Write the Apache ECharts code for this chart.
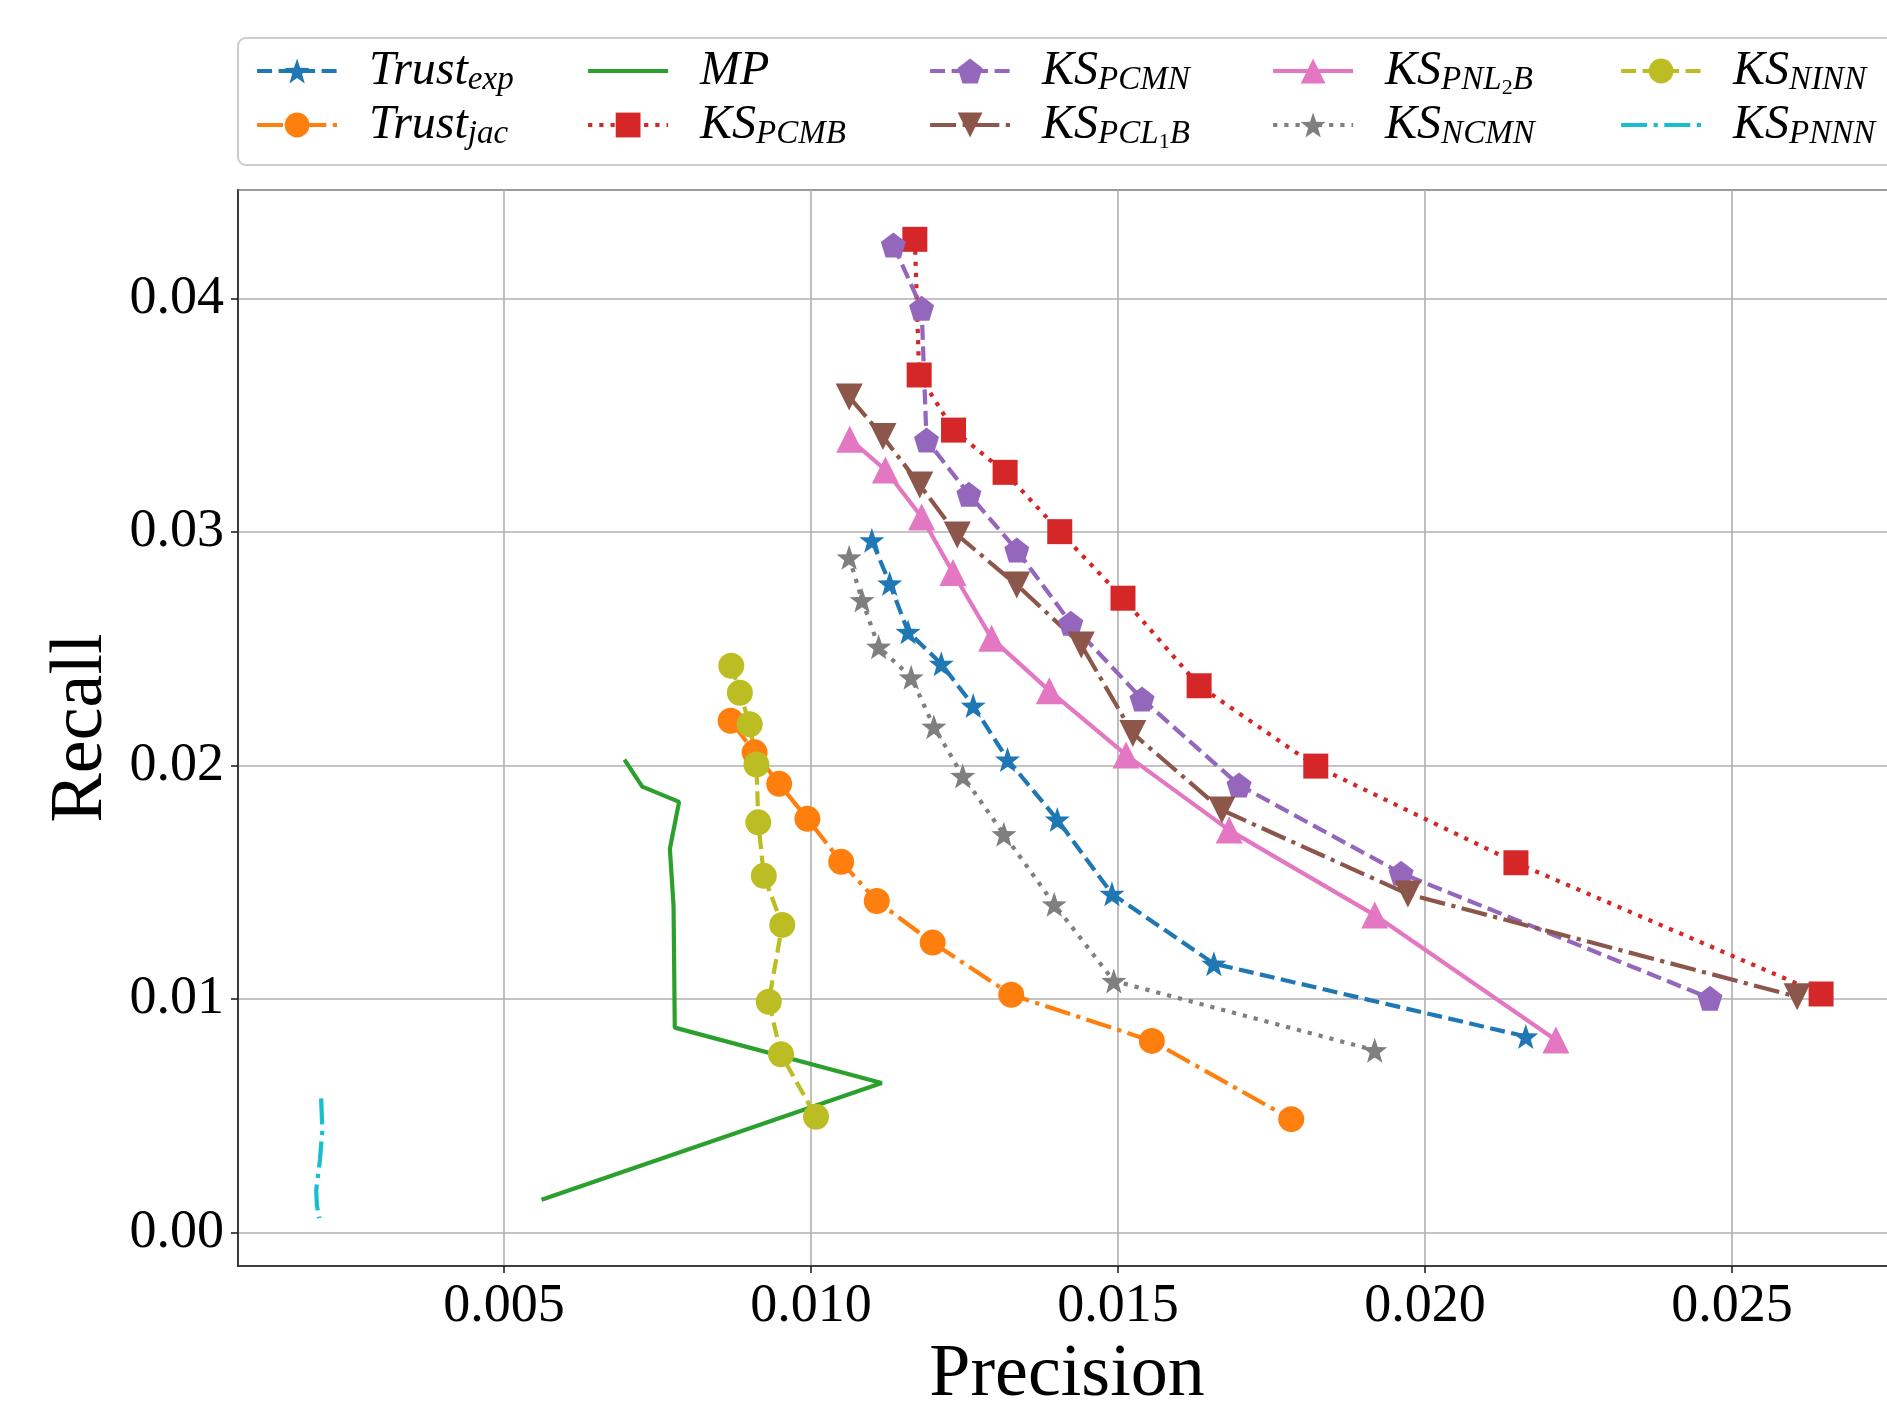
<!DOCTYPE html>
<html>
<head>
<meta charset="utf-8">
<script src="https://cdn.jsdelivr.net/npm/echarts@6/dist/echarts.min.js"></script>
<style>
  html, body { margin: 0; padding: 0; background: #fff; }
  #chart { width: 1887px; height: 1403px; }
</style>
</head>
<body>
<div id="chart"></div>
<script>
// [precision, recall] per method
var trustExp = [[0.01099, 0.02964], [0.01128, 0.02779], [0.01158, 0.02572], [0.01212, 0.02435], [0.01264, 0.02256],
    [0.01320, 0.02025], [0.01401, 0.01768], [0.01490, 0.01450], [0.01656, 0.01151], [0.02164, 0.00839]];
var trustJac = [[0.00869, 0.02191], [0.00908, 0.02056], [0.00948, 0.01921], [0.00994, 0.01771], [0.01049, 0.01587],
    [0.01107, 0.01419], [0.01198, 0.01241], [0.01326, 0.01018], [0.01555, 0.00820], [0.01782, 0.00485]];
var mp = [[0.00696, 0.02025], [0.00725, 0.01909], [0.00785, 0.01844], [0.00770, 0.01643], [0.00776, 0.01397],
    [0.00778, 0.00877], [0.01115, 0.00640], [0.00561, 0.00140]];
var ksPCMB = [[0.01169, 0.04253], [0.01176, 0.03672], [0.01232, 0.03436], [0.01316, 0.03255], [0.01405, 0.03001],
    [0.01508, 0.02716], [0.01632, 0.02341], [0.01822, 0.01997], [0.02148, 0.01583], [0.02645, 0.01021]];
var ksPCMN = [[0.01134, 0.04229], [0.01180, 0.03958], [0.01188, 0.03394], [0.01257, 0.03161], [0.01335, 0.02922],
    [0.01423, 0.02609], [0.01539, 0.02284], [0.01697, 0.01916], [0.01961, 0.01538], [0.02464, 0.01003]];
var ksPCL1B = [[0.01062, 0.03578], [0.01117, 0.03408], [0.01177, 0.03201], [0.01238, 0.02987], [0.01335, 0.02773],
    [0.01440, 0.02516], [0.01524, 0.02137], [0.01669, 0.01809], [0.01972, 0.01449], [0.02606, 0.01009]];
var ksPNL2B = [[0.01063, 0.03397], [0.01121, 0.03265], [0.01180, 0.03064], [0.01231, 0.02826], [0.01294, 0.02544],
    [0.01388, 0.02320], [0.01513, 0.02045], [0.01681, 0.01723], [0.01918, 0.01359], [0.02213, 0.00824]];
var ksNCMN = [[0.01062, 0.02891], [0.01083, 0.02708], [0.01110, 0.02508], [0.01163, 0.02377], [0.01200, 0.02166],
    [0.01247, 0.01955], [0.01314, 0.01705], [0.01396, 0.01405], [0.01493, 0.01077], [0.01918, 0.00780]];
var ksNINN = [[0.00870, 0.02427], [0.00884, 0.02311], [0.00900, 0.02176], [0.00911, 0.02004], [0.00914, 0.01756],
    [0.00923, 0.01527], [0.00953, 0.01317], [0.00931, 0.00988], [0.00951, 0.00763], [0.01008, 0.00495]];
var ksPNNN = [[0.00202, 0.00574], [0.00204, 0.00438], [0.00200, 0.00310], [0.00194, 0.00181], [0.00195, 0.00117],
    [0.00199, 0.00061]];

var xRange = [0.000666, 0.02767];
var yRange = [-0.001439, 0.044642];

var SERIF = "'Liberation Serif', 'DejaVu Serif', serif";
var STAR = 'path://M0,-10L2.35,-3.24L9.51,-3.09L3.8,1.24L5.88,8.09L0,4.2L-5.88,8.09L-3.8,1.24L-9.51,-3.09L-2.35,-3.24Z';
var PENT = 'path://M0,-10L9.51,-3.09L5.88,8.09L-5.88,8.09L-9.51,-3.09Z';
var TRI_DOWN = 'path://M-1,-1L1,-1L0,1Z';
var LW = 4.2;
var DASH = [15, 6.5], DOT = [4.2, 7], DASHDOT = [26, 6.5, 4.2, 6.5];

function line(name, data, color, symbol, size, type) {
    return {
        name: name, type: 'line', data: data,
        symbol: symbol, symbolSize: size, symbolKeepAspect: false,
        showSymbol: symbol !== 'none',
        lineStyle: {color: color, width: LW, type: type, cap: 'butt'},
        itemStyle: {color: color, borderWidth: 0},
        emphasis: {disabled: true},
        silent: true
    };
}

var series = [
    line('Trust_exp', trustExp, '#1f77b4', STAR, 25, DASH),
    line('Trust_jac', trustJac, '#ff7f0e', 'circle', 26, DASHDOT),
    line('MP', mp, '#2ca02c', 'none', 0, 'solid'),
    line('KS_PCMB', ksPCMB, '#d62728', 'rect', 25, DOT),
    line('KS_PCMN', ksPCMN, '#9467bd', PENT, 25, DASH),
    line('KS_PCL1B', ksPCL1B, '#8c564b', TRI_DOWN, 27, DASHDOT),
    line('KS_PNL2B', ksPNL2B, '#e377c2', 'triangle', 27, 'solid'),
    line('KS_NCMN', ksNCMN, '#7f7f7f', STAR, 25, DOT),
    line('KS_NINN', ksNINN, '#bcbd22', 'circle', 26, DASH),
    line('KS_PNNN', ksPNNN, '#17becf', 'none', 0, DASHDOT)
];

var labelText = {
    'Trust_exp': '{m|Trust}{s|exp}',
    'Trust_jac': '{m|Trust}{s|jac}',
    'MP': '{m|MP}',
    'KS_PCMB': '{m|KS}{s|PCMB}',
    'KS_PCMN': '{m|KS}{s|PCMN}',
    'KS_PCL1B': '{m|KS}{s|PCL}{ss|1}{s|B}',
    'KS_PNL2B': '{m|KS}{s|PNL}{ss|2}{s|B}',
    'KS_NCMN': '{m|KS}{s|NCMN}',
    'KS_NINN': '{m|KS}{s|NINN}',
    'KS_PNNN': '{m|KS}{s|PNNN}'
};

// matplotlib fills legend columns top to bottom
var colLeft = [255, 586, 928, 1271, 1619];
var rowTop = [47, 101];
var legends = series.map(function (s, i) {
    var noMarker = s.symbol === 'none';
    return {
        data: [s.name],
        left: colLeft[Math.floor(i / 2)],
        top: rowTop[i % 2],
        padding: 0,
        itemWidth: 80,
        itemHeight: 31,
        selectedMode: false,
        lineStyle: {width: LW},
        itemStyle: noMarker ? {opacity: 0} : {},
        formatter: function (n) { return labelText[n]; },
        textStyle: {
            color: '#000',
            rich: {
                m: {fontFamily: SERIF, fontStyle: 'italic', fontSize: 48, padding: [0, 0, 0, 27], color: '#000'},
                s: {fontFamily: SERIF, fontStyle: 'italic', fontSize: 33, padding: [18, 0, 0, 0], color: '#000'},
                ss: {fontFamily: SERIF, fontSize: 22, padding: [34, 0, 0, 0], color: '#000'}
            }
        }
    };
});

var axisCommon = {
    type: 'value',
    axisLine: {show: true, onZero: false, lineStyle: {color: '#222', width: 1.6}},
    axisTick: {show: true, inside: false, length: 7, lineStyle: {color: '#222', width: 1.6}},
    splitLine: {show: true, lineStyle: {color: '#b0b0b0', width: 1.6}},
    nameLocation: 'middle',
    nameTextStyle: {fontFamily: SERIF, fontSize: 74, color: '#000'}
};

var option = {
    animation: false,
    backgroundColor: '#fff',
    graphic: [{
        type: 'rect', z: 0,
        shape: {x: 238, y: 38, width: 1700, height: 127, r: 8},
        style: {fill: 'rgba(255,255,255,0.8)', stroke: '#cccccc', lineWidth: 2}
    }],
    legend: legends,
    grid: {
        left: 238, top: 190, width: 1658, height: 1076,
        show: true, borderColor: '#222', borderWidth: 1.6,
        containLabel: false, outerBoundsMode: 'none'
    },
    xAxis: Object.assign({}, axisCommon, {
        min: xRange[0], max: xRange[1], splitNumber: 5,
        name: 'Precision', nameGap: 70,
        axisLabel: {
            fontFamily: SERIF, fontSize: 54, color: '#000', margin: 14,
            showMinLabel: false, showMaxLabel: false,
            formatter: function (v) { return v.toFixed(3); }
        }
    }),
    yAxis: Object.assign({}, axisCommon, {
        min: yRange[0], max: yRange[1], splitNumber: 5,
        name: 'Recall', nameGap: 117,
        axisLabel: {
            fontFamily: SERIF, fontSize: 54, color: '#000', margin: 14,
            showMinLabel: false, showMaxLabel: false,
            formatter: function (v) { return Math.abs(v) < 1e-9 ? '0.00' : v.toFixed(2); }
        }
    }),
    series: series
};

echarts.init(document.getElementById('chart')).setOption(option);
</script>
</body>
</html>
